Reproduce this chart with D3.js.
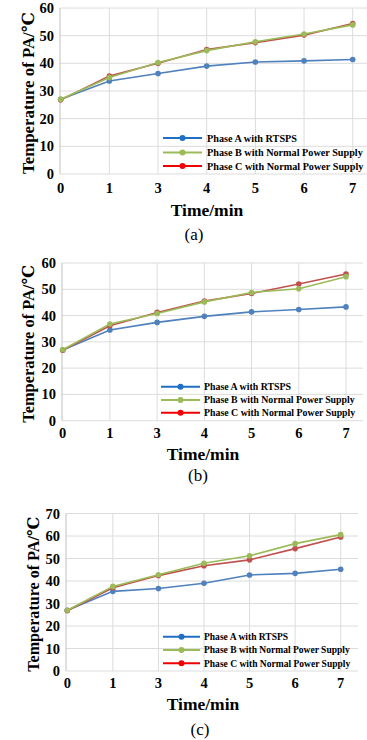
<!DOCTYPE html>
<meta charset="utf-8">
<html>
<head>
<script src="https://d3js.org/d3.v7.min.js"></script>
<style>
  body { margin: 0; background: #fff; }
  svg { display: block; }
  text { font-family: "Liberation Serif", "Times New Roman", "DejaVu Serif", serif; }
</style>
</head>
<body>
<svg></svg>
<script>
    // categories on the x axis (equal spacing, 2 is missing)
    var times = ["0", "1", "3", "4", "5", "6", "7"];
    var seriesNames = ["Phase A with RTSPS", "Phase B with Normal Power Supply", "Phase C with Normal Power Supply"];

    // (a)
    var aPhaseA = [27, 33.6, 36.3, 39.0, 40.5, 40.9, 41.4];
    var aPhaseB = [27, 34.9, 40.3, 44.6, 47.8, 50.6, 53.9];
    var aPhaseC = [26.8, 35.4, 40.0, 45.0, 47.5, 50.2, 54.4];
    // (b)
    var bPhaseA = [26.9, 34.5, 37.4, 39.7, 41.4, 42.3, 43.3];
    var bPhaseB = [27, 36.8, 40.8, 45.2, 48.8, 50.2, 54.8];
    var bPhaseC = [26.8, 36.1, 41.2, 45.5, 48.4, 52.0, 55.8];
    // (c)
    var cPhaseA = [27, 35.4, 36.7, 39.0, 42.7, 43.4, 45.2];
    var cPhaseB = [27, 37.6, 42.8, 47.9, 51.2, 56.6, 60.6];
    var cPhaseC = [26.8, 37.0, 42.4, 46.8, 49.4, 54.4, 59.6];

    var yTicksAB = [0, 10, 20, 30, 40, 50, 60];
    var yTicksC = [0, 10, 20, 30, 40, 50, 60, 70];

    var width = 367, height = 740;
    var lineColors = ["#4f81bd", "#9bbb59", "#c0504d"];
    var legendColors = ["#1f6fc5", "#9bbb59", "#f00000"];

    var svg = d3.select("svg").attr("width", width).attr("height", height);

    // layout of each panel
    var panels = [
        { oy: 0, series: [aPhaseA, aPhaseB, aPhaseC], ticks: yTicksAB, ymax: 60, caption: "(a)",
          left: 60, x0: 60.7, x7: 352.7, right: 367, top: 8, bottom: 174,
          tickY: 193, titleY: 216, titleX: 207, capY: 240, capX: 194,
          yTitleX: 28, yTitleLen: 162, legLine: [163, 202], legText: 207, legRows: [138, 152.5, 166], legLen: 156 },
        { oy: 250, series: [bPhaseA, bPhaseB, bPhaseC], ticks: yTicksAB, ymax: 60, caption: "(b)",
          left: 62, x0: 62.7, x7: 346, right: 363, top: 13, bottom: 170.7,
          tickY: 188, titleY: 210, titleX: 203, capY: 231, capX: 198,
          yTitleX: 28, yTitleLen: 158, legLine: [161, 200], legText: 204, legRows: [136.7, 150, 162.7], legLen: 151 },
        { oy: 500, series: [cPhaseA, cPhaseB, cPhaseC], ticks: yTicksC, ymax: 70, caption: "(c)",
          left: 66, x0: 67.3, x7: 340.7, right: 358, top: 13.5, bottom: 171,
          tickY: 188, titleY: 210, titleX: 203, capY: 235, capX: 200,
          yTitleX: 33, yTitleLen: 155, legLine: [163, 200], legText: 204, legRows: [136.7, 150, 163.3], legLen: 146 }
    ];

    panels.forEach(function (p) {
        var g = svg.append("g").attr("transform", "translate(0," + p.oy + ")");

        var x = d3.scalePoint().domain(times).range([p.x0, p.x7]);
        var y = d3.scaleLinear().domain([0, p.ymax]).range([p.bottom, p.top]);

        // grid
        g.append("g").selectAll("line")
            .data(p.ticks)
            .enter().append("line")
            .attr("x1", p.left).attr("x2", p.right)
            .attr("y1", function (d) { return y(d); })
            .attr("y2", function (d) { return y(d); })
            .attr("stroke", "#dcdcdc").attr("stroke-width", 1);

        g.append("g").selectAll("line")
            .data(times.slice(1))
            .enter().append("line")
            .attr("x1", function (d) { return x(d); })
            .attr("x2", function (d) { return x(d); })
            .attr("y1", p.top).attr("y2", p.bottom)
            .attr("stroke", "#dcdcdc").attr("stroke-width", 1);

        g.append("line")
            .attr("x1", p.left).attr("x2", p.left)
            .attr("y1", p.top).attr("y2", p.bottom)
            .attr("stroke", "#bfbfbf");

        // tick labels
        g.append("g").selectAll("text")
            .data(p.ticks)
            .enter().append("text")
            .attr("x", p.left - 6)
            .attr("y", function (d) { return y(d); })
            .attr("dy", "0.35em")
            .attr("text-anchor", "end")
            .style("font-size", "14.5px").style("font-weight", "bold")
            .text(function (d) { return d; });

        g.append("g").selectAll("text")
            .data(times)
            .enter().append("text")
            .attr("x", function (d) { return x(d); })
            .attr("y", p.tickY)
            .attr("text-anchor", "middle")
            .style("font-size", "14.5px").style("font-weight", "bold")
            .text(function (d) { return d; });

        // titles
        g.append("text")
            .attr("x", p.titleX).attr("y", p.titleY)
            .attr("text-anchor", "middle")
            .style("font-size", "17.5px").style("font-weight", "bold")
            .text("Time/min");

        g.append("text")
            .attr("x", p.capX).attr("y", p.capY)
            .attr("text-anchor", "middle")
            .style("font-size", "17px")
            .text(p.caption);

        var yt = g.append("text")
            .attr("transform", "translate(" + p.yTitleX + "," + ((p.top + p.bottom) / 2 + 2) + ")rotate(-90)")
            .attr("dy", "0.35em")
            .attr("text-anchor", "middle")
            .style("font-size", "16px").style("font-weight", "bold")
            .text("Temperature of PA/\u2103");
        var w = yt.node().getComputedTextLength();
        yt.style("font-size", (16 * p.yTitleLen / w) + "px");

        // lines, A then C then B
        var line = d3.line()
            .x(function (d, i) { return x(times[i]); })
            .y(function (d) { return y(d); });

        [0, 2, 1].forEach(function (k) {
            g.append("path")
                .datum(p.series[k])
                .attr("d", line)
                .attr("fill", "none")
                .attr("stroke", lineColors[k])
                .attr("stroke-width", 1.6);
            g.append("g").selectAll("circle")
                .data(p.series[k])
                .enter().append("circle")
                .attr("cx", function (d, i) { return x(times[i]); })
                .attr("cy", function (d) { return y(d); })
                .attr("r", 2.8)
                .attr("fill", lineColors[k]);
        });

        // legend
        var leg = g.append("g").selectAll("g")
            .data(seriesNames)
            .enter().append("g")
            .attr("transform", function (d, i) { return "translate(0," + p.legRows[i] + ")"; });

        leg.append("line")
            .attr("x1", p.legLine[0]).attr("x2", p.legLine[1])
            .attr("stroke", function (d, i) { return legendColors[i]; })
            .attr("stroke-width", 2);
        leg.append("circle")
            .attr("cx", (p.legLine[0] + p.legLine[1]) / 2)
            .attr("r", 3)
            .attr("fill", function (d, i) { return legendColors[i]; });
        var lt = leg.append("text")
            .attr("x", p.legText)
            .attr("dy", "0.35em")
            .style("font-size", "10px").style("font-weight", "bold")
            .text(function (d) { return d; });
        var lw = lt.nodes()[1].getComputedTextLength();
        lt.style("font-size", (10 * p.legLen / lw) + "px");
    });
</script>
</body>
</html>
